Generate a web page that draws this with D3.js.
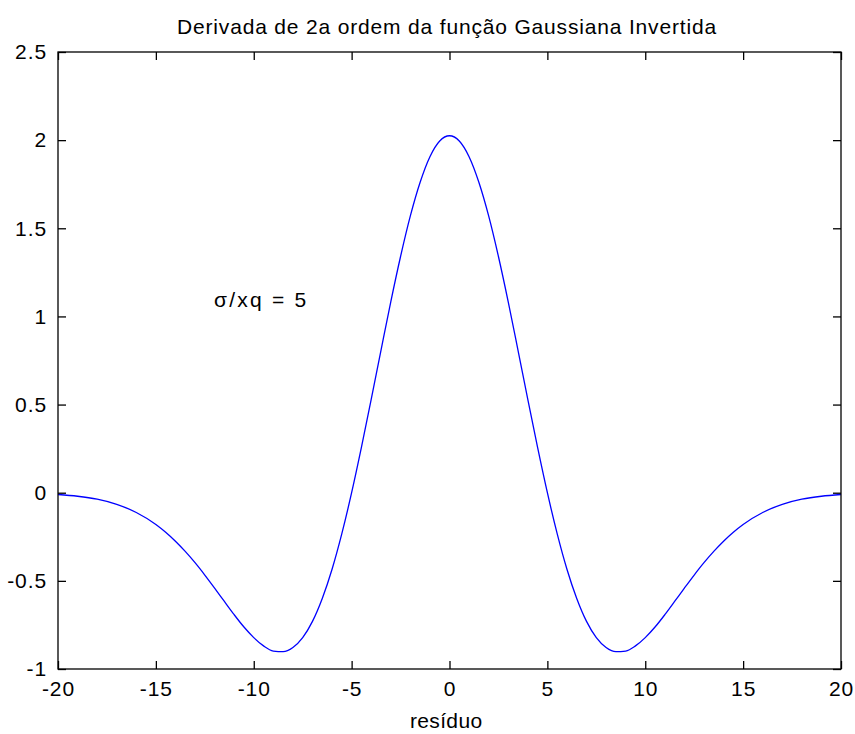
<!DOCTYPE html>
<html>
<head>
<meta charset="utf-8">
<script src="https://cdn.jsdelivr.net/npm/d3@7"></script>
<style>
  html, body { margin: 0; padding: 0; background: #fff; }
  svg text { font-family: "Liberation Sans", Arial, sans-serif; fill: #000; letter-spacing: 0.9px; }
</style>
</head>
<body>
<svg id="chart" width="855" height="734"></svg>
<script>
// Residual axis samples (symmetric about 0)
const residuo = [
  -20, -19, -18, -17, -16, -15, -14.5, -14, -13.5, -13, -12.5, -12, -11.5, -11, -10.5, -10,
  -9.5, -9, -8.5, -8, -7.5, -7, -6.5, -6, -5.5, -5, -4.5, -4, -3.5, -3, -2.5, -2, -1.5, -1, -0.5,
  0,
  0.5, 1, 1.5, 2, 2.5, 3, 3.5, 4, 4.5, 5, 5.5, 6, 6.5, 7, 7.5, 8, 8.5, 9, 9.5,
  10, 10.5, 11, 11.5, 12, 12.5, 13, 13.5, 14, 14.5, 15, 16, 17, 18, 19, 20
];
// Second derivative values of the inverted Gaussian (sigma/xq = 5)
const derivada = [
  -0.010, -0.020, -0.037, -0.066, -0.112, -0.180, -0.224, -0.275, -0.333, -0.397, -0.467, -0.541, -0.617, -0.692, -0.762, -0.822,
  -0.869, -0.898, -0.902, -0.878, -0.822, -0.730, -0.600, -0.434, -0.232, 0.000, 0.257, 0.529, 0.808, 1.083, 1.340, 1.570, 1.761, 1.906, 1.995,
  2.025,
  1.995, 1.906, 1.761, 1.570, 1.340, 1.083, 0.808, 0.529, 0.257, 0.000, -0.232, -0.434, -0.600, -0.730, -0.822, -0.878, -0.902, -0.898, -0.869,
  -0.822, -0.762, -0.692, -0.617, -0.541, -0.467, -0.397, -0.333, -0.275, -0.224, -0.180, -0.112, -0.066, -0.037, -0.020, -0.010
];
const xTicks = [-20, -15, -10, -5, 0, 5, 10, 15, 20];
const yTicks = [-1, -0.5, 0, 0.5, 1, 1.5, 2, 2.5];
const titulo = "Derivada de 2a ordem da função Gaussiana Invertida";
const rotuloX = "resíduo";
const anotacao = "σ/xq = 5";

const svg = d3.select("#chart");
const mLeft = 58, mRight = 841, mTop = 52, mBottom = 669;

const x = d3.scaleLinear().domain([-20, 20]).range([mLeft, mRight]);
const y = d3.scaleLinear().domain([-1, 2.5]).range([mBottom, mTop]);

const tickLen = 8;
const fontSize = 21;
// plain hyphen for negative numbers
const fmt = d => String(d).replace("\u2212", "-");

// Curve
const line = d3.line().x((d, i) => x(residuo[i])).y(d => y(d)).curve(d3.curveMonotoneX);
svg.append("path")
  .datum(derivada)
  .attr("d", line)
  .attr("fill", "none")
  .attr("stroke", "#0000ff")
  .attr("stroke-width", 1.3);

// Axes: bottom/left with labels, top/right mirrored ticks, all pointing inward
const axisStyle = g => {
  g.select(".domain").remove();
  g.selectAll(".tick line").attr("stroke", "#000").attr("stroke-width", 1.3);
  g.selectAll(".tick text").attr("font-size", fontSize).attr("font-family", "Liberation Sans, Arial, sans-serif");
};

svg.append("g").attr("transform", `translate(0,${mBottom})`)
  .call(d3.axisBottom(x).tickValues(xTicks).tickSize(-tickLen).tickPadding(12).tickFormat(fmt))
  .call(axisStyle);
svg.append("g").attr("transform", `translate(0,${mTop})`)
  .call(d3.axisTop(x).tickValues(xTicks).tickSize(-tickLen).tickFormat(""))
  .call(axisStyle);
svg.append("g").attr("transform", `translate(${mLeft},0)`)
  .call(d3.axisLeft(y).tickValues(yTicks).tickSize(-tickLen).tickPadding(11).tickFormat(fmt))
  .call(axisStyle);
svg.append("g").attr("transform", `translate(${mRight},0)`)
  .call(d3.axisRight(y).tickValues(yTicks).tickSize(-tickLen).tickFormat(""))
  .call(axisStyle);

// Frame
svg.append("rect")
  .attr("x", mLeft).attr("y", mTop)
  .attr("width", mRight - mLeft).attr("height", mBottom - mTop)
  .attr("fill", "none").attr("stroke", "#000").attr("stroke-width", 1.3);

// Title, axis label, annotation
svg.append("text").attr("x", 177).attr("y", 34)
  .attr("font-size", fontSize).attr("textLength", 540).attr("lengthAdjust", "spacing").text(titulo);
svg.append("text").attr("x", 410).attr("y", 728)
  .attr("font-size", fontSize).attr("textLength", 73).attr("lengthAdjust", "spacing").text(rotuloX);
svg.append("text").attr("x", 214).attr("y", 307)
  .attr("font-size", fontSize).attr("textLength", 93).attr("lengthAdjust", "spacing").text(anotacao);
</script>
</body>
</html>
